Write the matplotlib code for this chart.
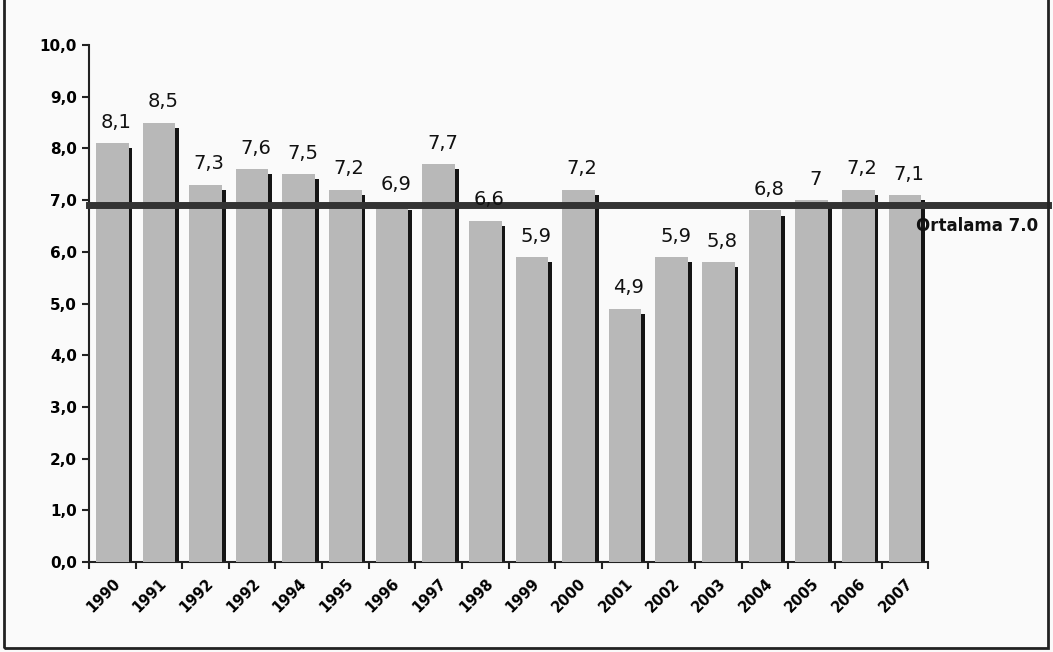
import matplotlib.pyplot as plt
import numpy as np
from matplotlib.patches import Rectangle

# yillar (1992 iki kez yaziyor, orijinaldeki gibi)
years = ["1990", "1991", "1992", "1992", "1994", "1995", "1996", "1997", "1998",
         "1999", "2000", "2001", "2002", "2003", "2004", "2005", "2006", "2007"]
values = [8.1, 8.5, 7.3, 7.6, 7.5, 7.2, 6.9, 7.7, 6.6,
          5.9, 7.2, 4.9, 5.9, 5.8, 6.8, 7.0, 7.2, 7.1]
value_labels = ["8,1", "8,5", "7,3", "7,6", "7,5", "7,2", "6,9", "7,7", "6,6",
                "5,9", "7,2", "4,9", "5,9", "5,8", "6,8", "7", "7,2", "7,1"]
avg_line = 6.9
avg_label = "Ortalama 7.0"
yticks = [0, 1, 2, 3, 4, 5, 6, 7, 8, 9, 10]
ytick_labels = ["0,0", "1,0", "2,0", "3,0", "4,0", "5,0", "6,0", "7,0", "8,0", "9,0", "10,0"]

fig = plt.figure(figsize=(10.53, 6.52), dpi=100, facecolor="#fafafa")
ax = fig.add_axes([0.0845, 0.138, 0.797, 0.793])
ax.set_facecolor("#fafafa")

x = np.arange(len(years))
# golge (koyu sag kenar)
ax.bar(x + 0.385, np.array(values) - 0.1, width=0.09, color="#151515", zorder=2)
ax.bar(x, values, width=0.7, color="#b8b8b8", zorder=3)

for xi, v, lab in zip(x, values, value_labels):
    ax.text(xi + 0.08, v + 0.22, lab, ha="center", va="bottom", fontsize=14,
            color="#111111", zorder=5)

ax.axhline(avg_line, xmin=0, xmax=1.143, color="#333333", lw=5, clip_on=False, zorder=4)
ax.text(0.985, 6.5, avg_label, transform=ax.get_yaxis_transform(), fontsize=12,
        fontweight="bold", color="#111111", va="center", ha="left", zorder=6)

ax.set_xlim(-0.5, len(years) - 0.5)
ax.set_ylim(0, 10)
ax.set_yticks(yticks)
ax.set_yticklabels(ytick_labels, fontsize=11, fontweight="bold")
ax.set_xticks(x)
ax.set_xticklabels(years, rotation=45, ha="right", rotation_mode="anchor",
                   fontsize=10.5, fontweight="bold")
ax.tick_params(axis="x", length=0, pad=10)
ax.set_xticks(np.arange(-0.5, len(years)), minor=True)
ax.tick_params(axis="x", which="minor", length=5, width=1.5, color="#222222")
ax.tick_params(axis="y", length=5, width=1.5, color="#222222")

for s in ["top", "right"]:
    ax.spines[s].set_visible(False)
for s in ["left", "bottom"]:
    ax.spines[s].set_color("#222222")
    ax.spines[s].set_linewidth(1.5)

# dis cerceve
fig.patches.append(Rectangle((4 / 1053, 4 / 652), 1044 / 1053, 1.2, transform=fig.transFigure,
                             fill=False, edgecolor="#222222", lw=2))

fig.savefig("out.png", dpi=100, facecolor=fig.get_facecolor())
